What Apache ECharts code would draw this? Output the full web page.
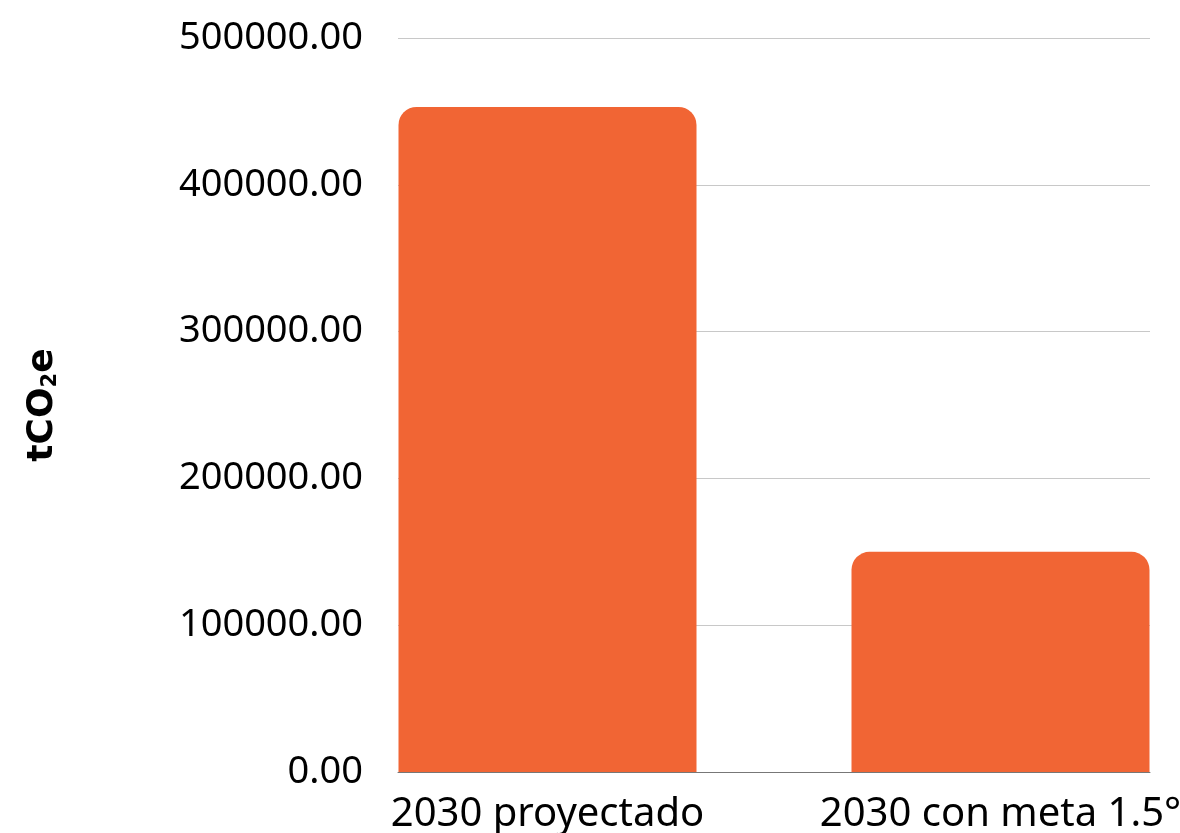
<!DOCTYPE html>
<html>
<head>
<meta charset="utf-8">
<script src="https://cdn.jsdelivr.net/npm/echarts@6/dist/echarts.min.js"></script>
<style>
  html, body { margin: 0; padding: 0; background: #fff; }
  #chart { width: 1180px; height: 833px; }
</style>
</head>
<body>
<div id="chart"></div>
<script>
const categories = ['2030 proyectado', '2030 con meta 1.5°']
const emissions = [453000, 150000]
const yMin = 0
const yMax = 500000
const yStep = 100000

const chart = echarts.init(document.getElementById('chart'))

const font = '"Noto Sans", sans-serif'
const nameFont = '"DejaVu Sans", sans-serif'

chart.setOption({
  animation: false,
  grid: [
    // grid 0 carries the y axis and grid lines
    { left: 398, right: 30, top: 38, bottom: 61, outerBoundsMode: 'none' },
    // grid 1 carries the bars, wider so each bar sits under its label
    { left: 321, width: 906, top: 38, bottom: 61, outerBoundsMode: 'none' },
  ],
  xAxis: [
    {
      gridIndex: 0,
      type: 'category',
      data: categories,
      axisLine: { show: true, lineStyle: { color: '#777', width: 1 } },
      axisTick: { show: false },
      axisLabel: { show: false },
    },
    {
      gridIndex: 1,
      type: 'category',
      data: categories,
      axisLine: { show: false },
      axisTick: { show: false },
      axisLabel: { color: '#000', fontSize: 40, fontFamily: font, margin: 23, interval: 0 },
    },
  ],
  yAxis: [
    {
      gridIndex: 0,
      type: 'value',
      min: yMin,
      max: yMax,
      interval: yStep,
      name: '{b|tCO}{s|2}{b|e}',
      nameLocation: 'middle',
      nameGap: 337,
      nameRotate: 90,
      nameTextStyle: {
        rich: {
          b: { fontSize: 36, fontWeight: 'bold', fontFamily: nameFont, color: '#000', verticalAlign: 'middle' },
          s: { fontSize: 21, fontWeight: 'bold', fontFamily: nameFont, color: '#000', verticalAlign: 'bottom', padding: [15, 0, 0, 0] },
        },
      },
      axisLine: { show: false },
      axisTick: { show: false },
      axisLabel: {
        color: '#000',
        fontSize: 38,
        fontFamily: font,
        margin: 35,
        formatter: (v) => v.toFixed(2),
      },
      splitLine: { lineStyle: { color: '#c8c8c8', width: 1 } },
    },
    {
      gridIndex: 1,
      type: 'value',
      min: yMin,
      max: yMax,
      interval: yStep,
      show: false,
      splitLine: { show: false },
    },
  ],
  series: [
    {
      type: 'bar',
      xAxisIndex: 1,
      yAxisIndex: 1,
      data: emissions,
      barWidth: 298,
      itemStyle: { color: '#f16534', borderRadius: [18, 18, 0, 0] },
    },
  ],
})
</script>
</body>
</html>
